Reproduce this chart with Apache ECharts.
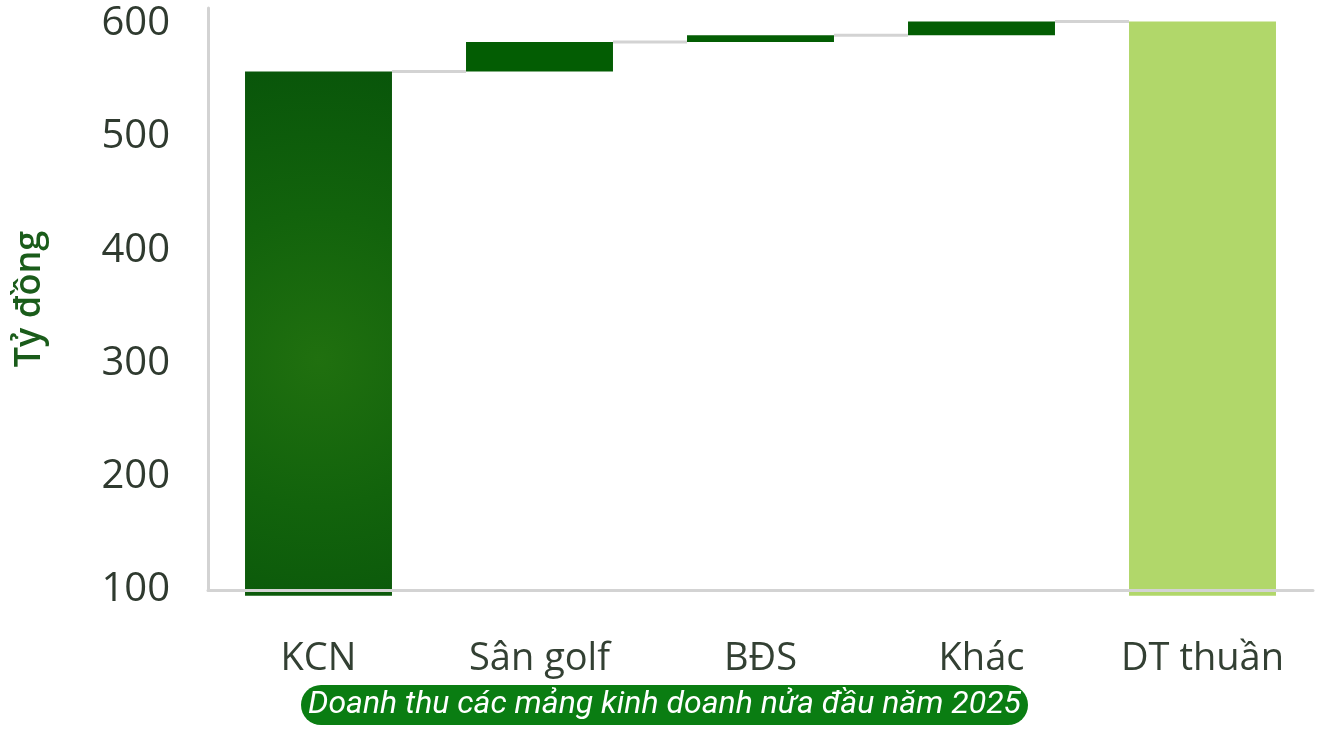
<!DOCTYPE html>
<html>
<head>
<meta charset="utf-8">
<script src="https://cdn.jsdelivr.net/npm/echarts@6/dist/echarts.min.js"></script>
<style>
html,body{margin:0;padding:0;background:#fff;}
#chart{width:1329px;height:738px;}
</style>
</head>
<body>
<div id="chart"></div>
<script>
// ---- data ----
const categories = ['KCN', 'Sân golf', 'BĐS', 'Khác', 'DT thuần'];
const segmentValues = [558, 26, 6, 12, 602];   // Tỷ đồng
const isTotal = [false, false, false, false, true];
const yTicks = [100, 200, 300, 400, 500, 600];
const barFloor = 95;   // bars start slightly below the axis line
const titleText = 'Doanh thu các mảng kinh doanh nửa đầu năm 2025';
const yName = 'Tỷ đồng';

// ---- derived waterfall pieces ----
const helper = [], visible = [], cumulative = [];
let run = 0;
segmentValues.forEach((v, i) => {
  if (isTotal[i] || i === 0) {
    helper.push(barFloor);
    visible.push(v - barFloor);
    run = v;
  } else {
    helper.push(run);
    visible.push(v);
    run += v;
  }
  cumulative.push(run);
});
const connectorData = cumulative.slice(0, -1).map((c, i) => [i, c]);

const barColors = [
  {type:'radial', x:0.5, y:0.55, r:2.0, colorStops:[
    {offset:0,color:'#20700f'},{offset:0.5,color:'#12630c'},{offset:1,color:'#09560a'}]},
  '#035d03', '#035d03', '#035d03', '#b1d76a'
];

const chart = echarts.init(document.getElementById('chart'));
const BAR_RATIO = 0.665;

chart.setOption({
  animation: false,
  backgroundColor: '#ffffff',
  title: {
    text: titleText,
    left: 'center',
    top: 685,
    backgroundColor: '#0a7d12',
    borderRadius: 21,
    padding: [4, 7, 4, 7],
    textStyle: {
      color: '#ffffff', fontStyle: 'italic', fontWeight: 'normal',
      fontFamily: 'Roboto', fontSize: 32
    }
  },
  grid: { left: 208, right: 16, top: 8, bottom: 148 },
  xAxis: {
    type: 'category',
    data: categories,
    axisLine: { show: true, lineStyle: { color: '#d3d3d3', width: 3 } },
    axisTick: { show: false },
    axisLabel: { color: '#334033', fontSize: 38, fontFamily: 'Open Sans', margin: 50, interval: 0 },
    z: 10
  },
  yAxis: {
    type: 'value',
    min: 100, max: 614, interval: 100,
    name: yName,
    nameLocation: 'middle',
    nameGap: 160,
    nameTextStyle: { color: '#1a5c1a', fontSize: 36, fontWeight: 600, fontFamily: 'Open Sans' },
    axisLine: { show: true, lineStyle: { color: '#d3d3d3', width: 3 } },
    axisTick: { show: false },
    splitLine: { show: false },
    axisLabel: {
      color: '#2f3a2f', fontSize: 40, fontFamily: 'Open Sans', margin: 38,
      showMaxLabel: false,
      formatter: v => (yTicks.indexOf(v) >= 0 ? String(v) : '')
    }
  },
  series: [
    {
      type: 'bar', stack: 'wf', data: helper,
      itemStyle: { color: 'transparent' },
      barWidth: (BAR_RATIO * 100) + '%',
      silent: true, clip: true
    },
    {
      type: 'bar', stack: 'wf',
      data: visible.map((v, i) => ({ value: v, itemStyle: { color: barColors[i] } })),
      barWidth: (BAR_RATIO * 100) + '%',
      clip: false
    },
    {
      type: 'custom',
      data: connectorData,
      clip: false,
      z: 1,
      renderItem: function (params, api) {
        const i = api.value(0);
        const lvl = api.value(1);
        const p0 = api.coord([i, lvl]);
        const p1 = api.coord([i + 1, lvl]);
        const band = api.size([1, 0])[0];
        const half = band * BAR_RATIO / 2;
        return {
          type: 'line',
          shape: { x1: p0[0] + half, y1: p0[1], x2: p1[0] - half, y2: p1[1] },
          style: { stroke: '#d3d3d3', lineWidth: 3 }
        };
      }
    }
  ]
});
</script>
</body>
</html>
